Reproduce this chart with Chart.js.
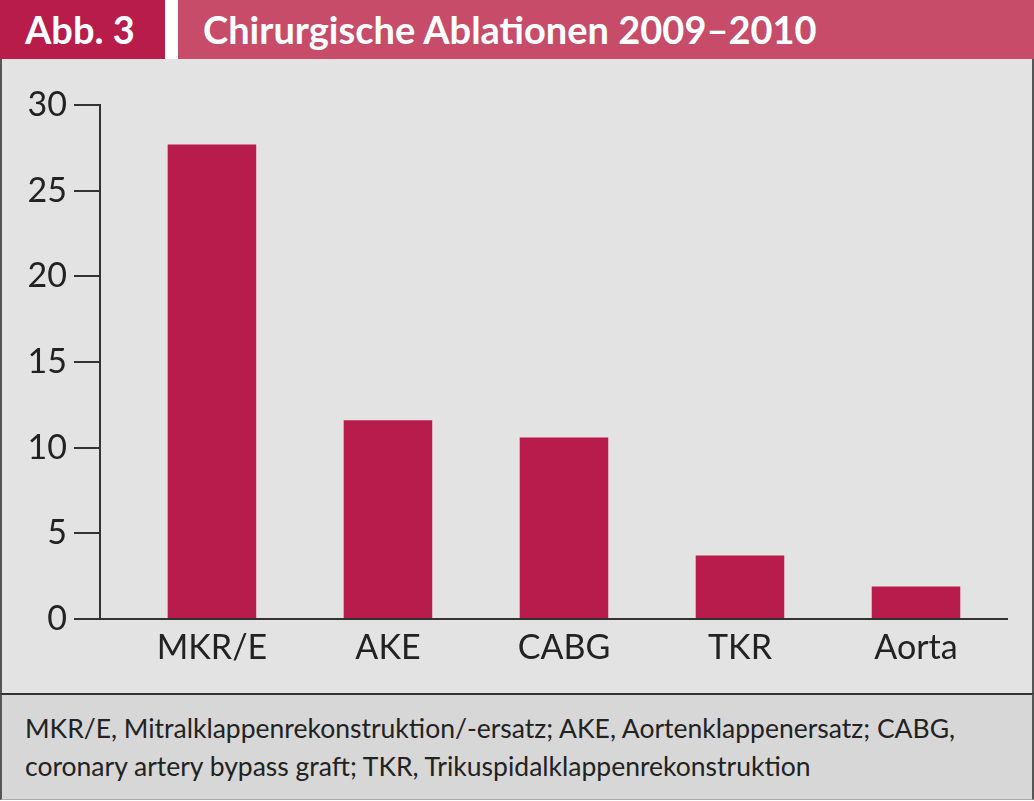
<!DOCTYPE html>
<html>
<head>
<meta charset="utf-8">
<script src="https://cdn.jsdelivr.net/npm/chart.js@4.4.1/dist/chart.umd.min.js"></script>
<style>
  body { margin: 0; width: 1034px; height: 801px; background: #fff; position: relative; overflow: hidden; font-family: Lato, sans-serif; }
  .abb { position: absolute; left: 0; top: 0; width: 165px; height: 59px; background: #b71c4b; color: #fff;
         font-weight: bold; font-size: 38px; line-height: 59px; padding-left: 25px; box-sizing: border-box; }
  .title { position: absolute; left: 178px; top: 0; width: 856px; height: 59px; background: #c64c6a; color: #fff;
           font-weight: bold; font-size: 38px; line-height: 59px; padding-left: 25px; box-sizing: border-box; }
  .panel { position: absolute; left: 0; top: 59px; width: 1034px; height: 634px; background: #e3e3e3;
           border-left: 2px solid #555; border-right: 2px solid #555; box-sizing: border-box; }
  .foot { position: absolute; left: 0; top: 693px; width: 1034px; height: 107px; background: #d7d7d7;
          border: 2px solid #555; border-top: 2px solid #333; border-bottom: 1px solid #aaa; box-sizing: border-box;
          padding: 14px 0 0 23px; font-size: 26.5px; line-height: 38px; color: #222; }
  canvas { position: absolute; left: 0; top: 0; }
</style>
</head>
<body>
<div class="abb">Abb. 3</div>
<div class="title">Chirurgische Ablationen 2009–2010</div>
<div class="panel"><canvas id="chart" width="1030" height="634"></canvas></div>
<div class="foot">MKR/E, Mitralklappenrekonstruktion/-ersatz; AKE, Aortenklappenersatz; CABG,<br>coronary artery bypass graft; TKR, Trikuspidalklappenrekonstruktion</div>
<script>
const categories = ['MKR/E', 'AKE', 'CABG', 'TKR', 'Aorta'];
const values = [27.7, 11.6, 10.6, 3.7, 1.9];
const yTicks = [0, 5, 10, 15, 20, 25, 30];

const axisColor = '#333';
const tickFont = { family: 'Lato, sans-serif', size: 34 };

new Chart(document.getElementById('chart'), {
    type: 'bar',
    data: {
        datasets: [{
            data: values.map((v, i) => ({ x: i, y: v })),
            backgroundColor: '#b81c4c',
            borderWidth: 0,
            barPercentage: 1,
            categoryPercentage: 0.503
        }]
    },
    options: {
        responsive: false,
        animation: false,
        layout: { padding: { top: 46, right: 25, bottom: 0, left: 0 } },
        plugins: { legend: { display: false }, tooltip: { enabled: false } },
        scales: {
            x: {
                type: 'linear',
                offset: false,
                bounds: 'data',
                min: -0.636,
                max: 4.517,
                afterBuildTicks: s => { s.ticks = categories.map((c, i) => ({ value: i })); },
                afterFit: s => { s.height = 74; },
                grid: { display: false, offset: false },
                border: { display: true, color: axisColor, width: 2 },
                ticks: {
                    callback: v => categories[v],
                    color: '#222',
                    font: tickFont,
                    padding: 1,
                    maxRotation: 0,
                    autoSkip: false
                }
            },
            y: {
                min: 0,
                max: 30,
                afterBuildTicks: s => { s.ticks = yTicks.map(v => ({ value: v })); },
                afterFit: s => { s.width = 98; },
                grid: { drawOnChartArea: false, drawTicks: true, tickLength: 26, color: axisColor, lineWidth: 2 },
                border: { display: true, color: axisColor, width: 2 },
                ticks: { color: '#222', font: tickFont, padding: 7 }
            }
        }
    }
});
</script>
</body>
</html>
